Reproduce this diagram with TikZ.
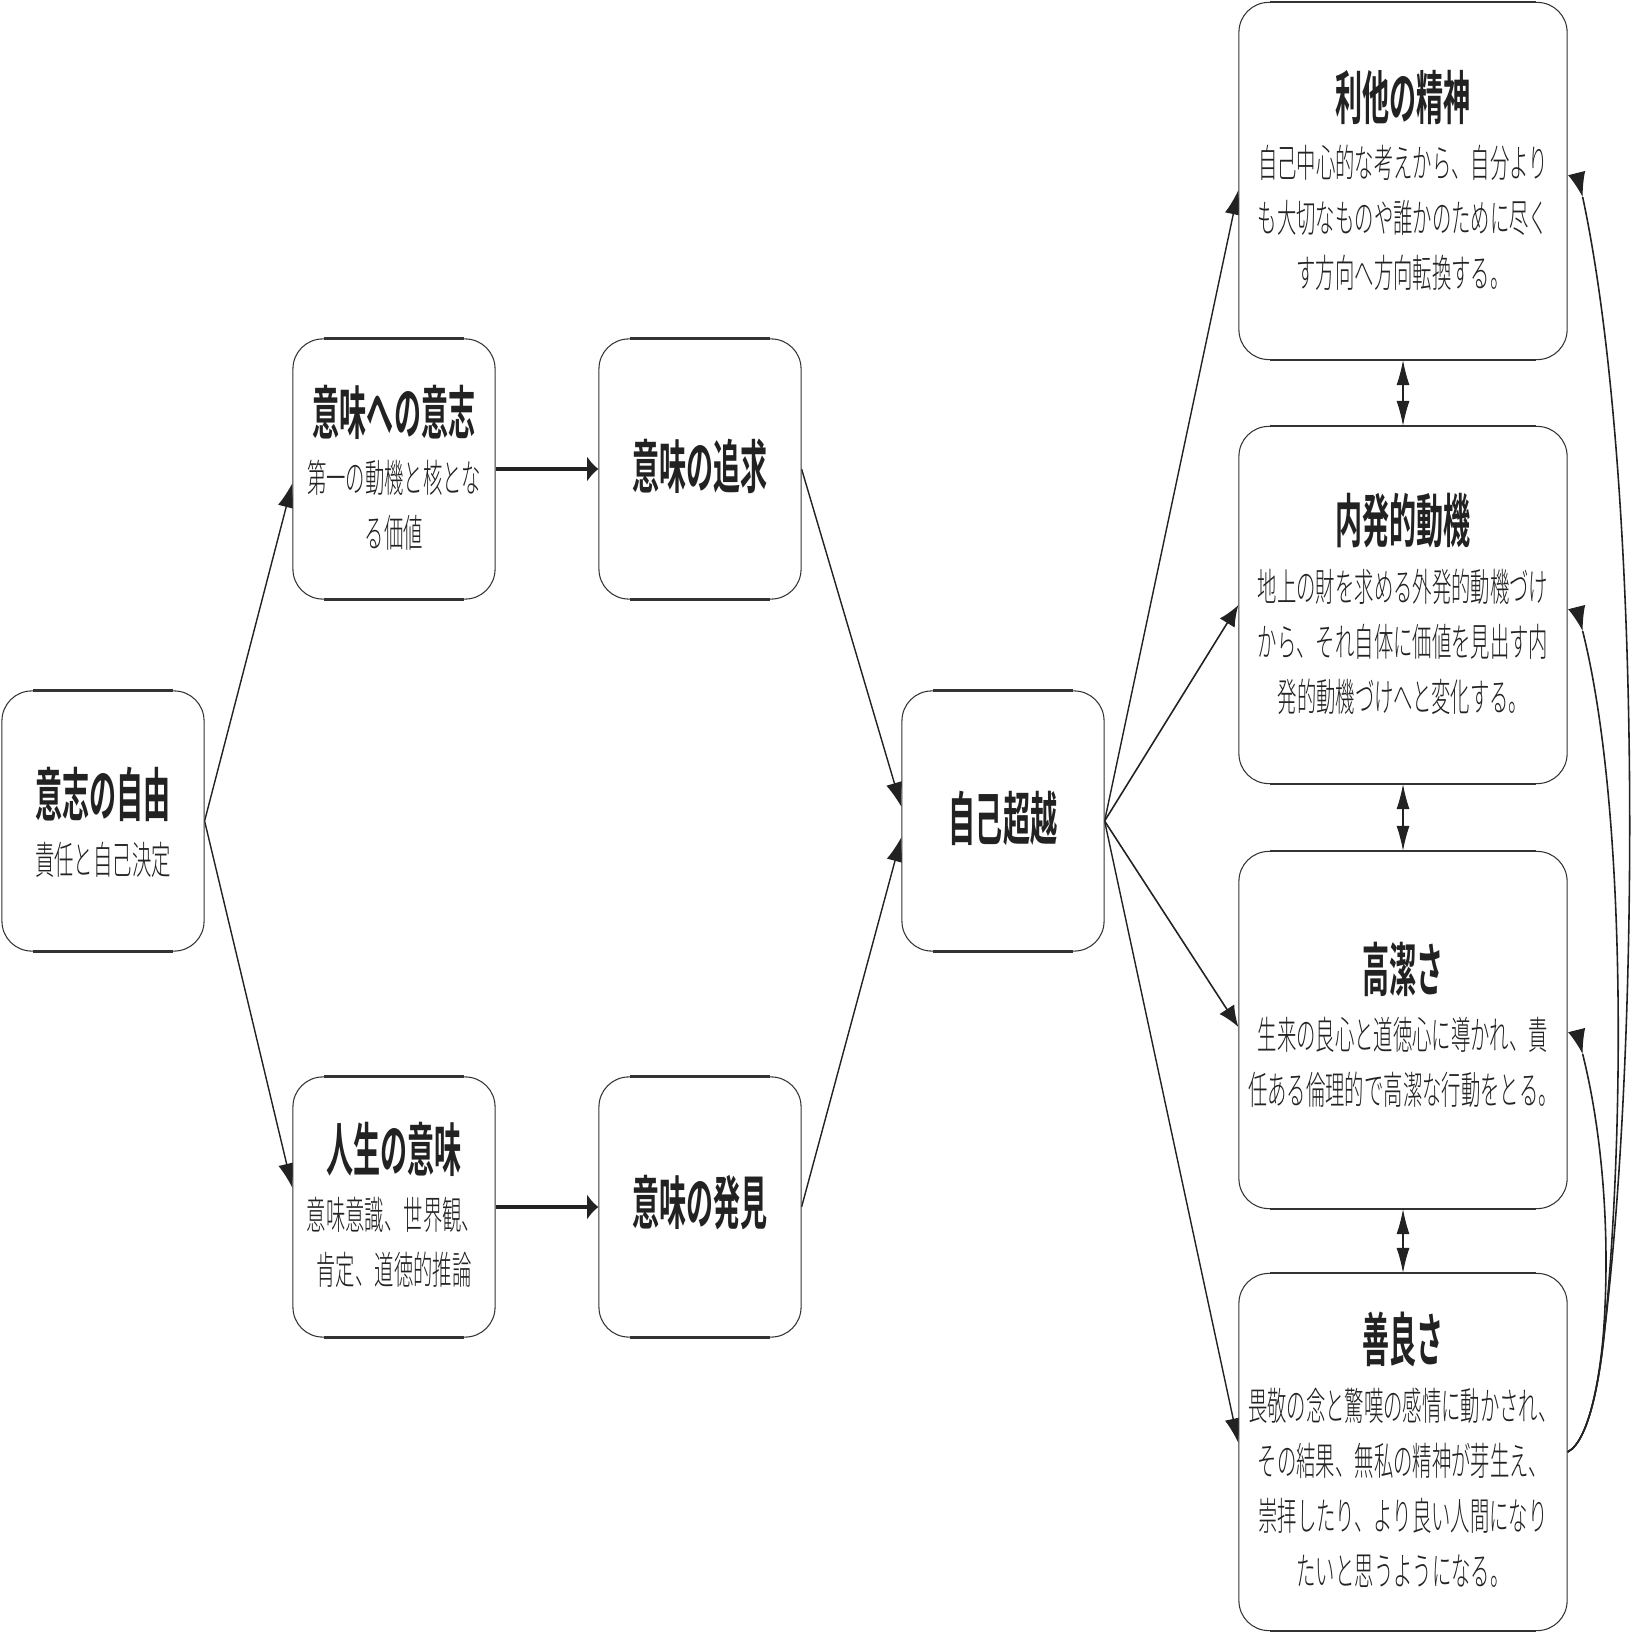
\documentclass[tikz,border=0pt]{standalone}
\usepackage{fontspec}
\usetikzlibrary{arrows.meta,calc}
\newfontfamily\jpt[FakeStretch=0.466, BoldFont={Noto Sans CJK JP Bold}]{Noto Sans CJK JP}
\newfontfamily\jpb[FakeStretch=0.5]{Noto Sans CJK JP Light}
\definecolor{ink}{HTML}{222222}
\definecolor{frame}{HTML}{333333}
\pgfdeclarelayer{bg}
\pgfsetlayers{bg,main}
\tikzset{
  box/.style={draw=frame, line width=0.3pt, fill=white, rounded corners=8.5pt, inner sep=0pt},
  sbox/.style={box, minimum width=2.02cm, minimum height=2.60cm},
  lbox/.style={box, minimum width=3.28cm, minimum height=3.57cm},
  hline/.style={draw=frame, line width=0.75pt},
  ttl/.style={font={\jpt\bfseries\fontsize{16.5pt}{20pt}\selectfont}, text=ink, inner sep=0pt},
  bdy/.style={font={\jpb\fontsize{11pt}{15.65pt}\selectfont}, text=ink, align=center, inner sep=0pt},
  sedge/.style={draw=ink, line width=0.4pt, -{Latex[length=7pt,width=4.8pt]}},
  dedge/.style={draw=ink, line width=0.45pt, -{Latex[length=6pt,width=5pt]}},
  hedge/.style={draw=ink, line width=0.95pt, -{Latex[length=3.2pt,width=7.4pt]}},
  vedge/.style={draw=ink, line width=0.3pt, {Latex[length=7.1pt,width=3.7pt]}-{Latex[length=7.1pt,width=3.7pt]}},
  cedge/.style={draw=ink, line width=0.45pt},
  ctip/.style={draw=ink, line width=0.3pt, -{Latex[length=7pt,width=5pt]}}
}
\begin{document}
\begin{tikzpicture}[x=0.01cm, y=-0.01cm]
\useasboundingbox (0,0) rectangle (1634,1634);

% boxes
\node[sbox] (A) at (103,821) {};
\node[sbox] (B) at (394,469) {};
\node[sbox] (C) at (700,469) {};
\node[sbox] (D) at (394,1207) {};
\node[sbox] (E) at (700,1207) {};
\node[sbox] (F) at (1003,821) {};
\node[lbox] (G) at (1403,181) {};
\node[lbox] (H) at (1403,605) {};
\node[lbox] (I) at (1403,1030) {};
\node[lbox] (J) at (1403,1452) {};
\foreach \n in {A,B,C,D,E,F,G,H,I,J}{
  \draw[hline] ([xshift=9pt]\n.north west) -- ([xshift=-9pt]\n.north east);
  \draw[hline] ([xshift=9pt]\n.south west) -- ([xshift=-9pt]\n.south east);
}

% texts
\node[ttl] (At) at ($(A)+(0,-27)$) {意志の自由};
\node[bdy] (Ab) at ($(A)+(0,39)$) {責任と自己決定};
\node[ttl] (Bt) at ($(B)+(0,-57)$) {意味への意志};
\node[bdy] (Bb) at ($(B)+(0,36.5)$) {第一の動機と核とな\\る価値};
\node[ttl] (Ct) at ($(C)+(0,-3)$) {意味の追求};
\node[ttl] (Dt) at ($(D)+(0,-58)$) {人生の意味};
\node[bdy] (Db) at ($(D)+(0,35.5)$) {意味意識、世界観、\\肯定、道徳的推論};
\node[ttl] (Et) at ($(E)+(0,-4)$) {意味の発見};
\node[ttl] (Ft) at ($(F)+(0,-3)$) {自己超越};
\node[ttl] (Gt) at ($(G)+(0,-84)$) {利他の精神};
\node[bdy] (Gb) at ($(G)+(0,37)$) {自己中心的な考えから、自分より\\も大切なものや誰かのために尽く\\す方向へ方向転換する。};
\node[ttl] (Ht) at ($(H)+(0,-84)$) {内発的動機};
\node[bdy] (Hb) at ($(H)+(0,37)$) {地上の財を求める外発的動機づけ\\から、それ自体に価値を見出す内\\発的動機づけへと変化する。};
\node[ttl] (It) at ($(I)+(0,-61)$) {高潔さ};
\node[bdy] (Ib) at ($(I)+(0,32.5)$) {生来の良心と道徳心に導かれ、責\\任ある倫理的で高潔な行動をとる。};
\node[ttl] (Jt) at ($(J)+(0,-113)$) {善良さ};
\node[bdy] (Jb) at ($(J)+(0,35.5)$) {畏敬の念と驚嘆の感情に動かされ、\\その結果、無私の精神が芽生え、\\崇拝したり、より良い人間になり\\たいと思うようになる。};

% connectors
\begin{pgfonlayer}{bg}
\draw[sedge] (A.east) -- ($(B.west)+(0,14)$);
\draw[sedge] (A.east) -- ($(D.west)+(0,-19)$);
\draw[hedge] (B.east) -- (C.west);
\draw[hedge] (D.east) -- (E.west);
\draw[sedge] (C.east) -- ($(F.west)+(0,-14)$);
\draw[sedge] (E.east) -- ($(F.west)+(0,16)$);
\draw[sedge] (F.east) -- ($(G.west)+(0,9)$);
\draw[dedge] (F.east) -- (H.west);
\draw[dedge] (F.east) -- ($(I.west)+(0,-3)$);
\draw[sedge] (F.east) -- ($(J.west)+(0,-9)$);
\draw[vedge] (G.south) -- (H.north);
\draw[vedge] (H.south) -- (I.north);
\draw[vedge] (I.south) -- (J.north);
\end{pgfonlayer}
% curved connectors from 善良さ back to the upper boxes
\draw[cedge] (J.east) .. controls ($(J.east)+(23,-12)$) and ($(J.east)+(33,-82)$) .. ($(J.east)+(37,-122)$)
  .. controls ($(J.east)+(73,-422)$) and ($(G.east)+(74,292)$) .. ($(G.east)+(15,16)$);
\draw[ctip] ($(G.east)+(9,-8)$) -- ($(G.east)+(15,16)$);
\draw[cedge] (J.east) .. controls ($(J.east)+(23,-12)$) and ($(J.east)+(33,-82)$) .. ($(J.east)+(37,-122)$)
  .. controls ($(J.east)+(57,-322)$) and ($(H.east)+(59,202)$) .. ($(H.east)+(15,26)$);
\draw[ctip] ($(H.east)+(9,2)$) -- ($(H.east)+(15,26)$);
\draw[cedge] (J.east) .. controls ($(J.east)+(23,-12)$) and ($(J.east)+(33,-82)$) .. ($(J.east)+(36,-122)$)
  .. controls ($(J.east)+(43,-222)$) and ($(I.east)+(34,100)$) .. ($(I.east)+(15,24)$);
\draw[ctip] ($(I.east)+(9,0)$) -- ($(I.east)+(15,24)$);
\end{tikzpicture}
\end{document}
